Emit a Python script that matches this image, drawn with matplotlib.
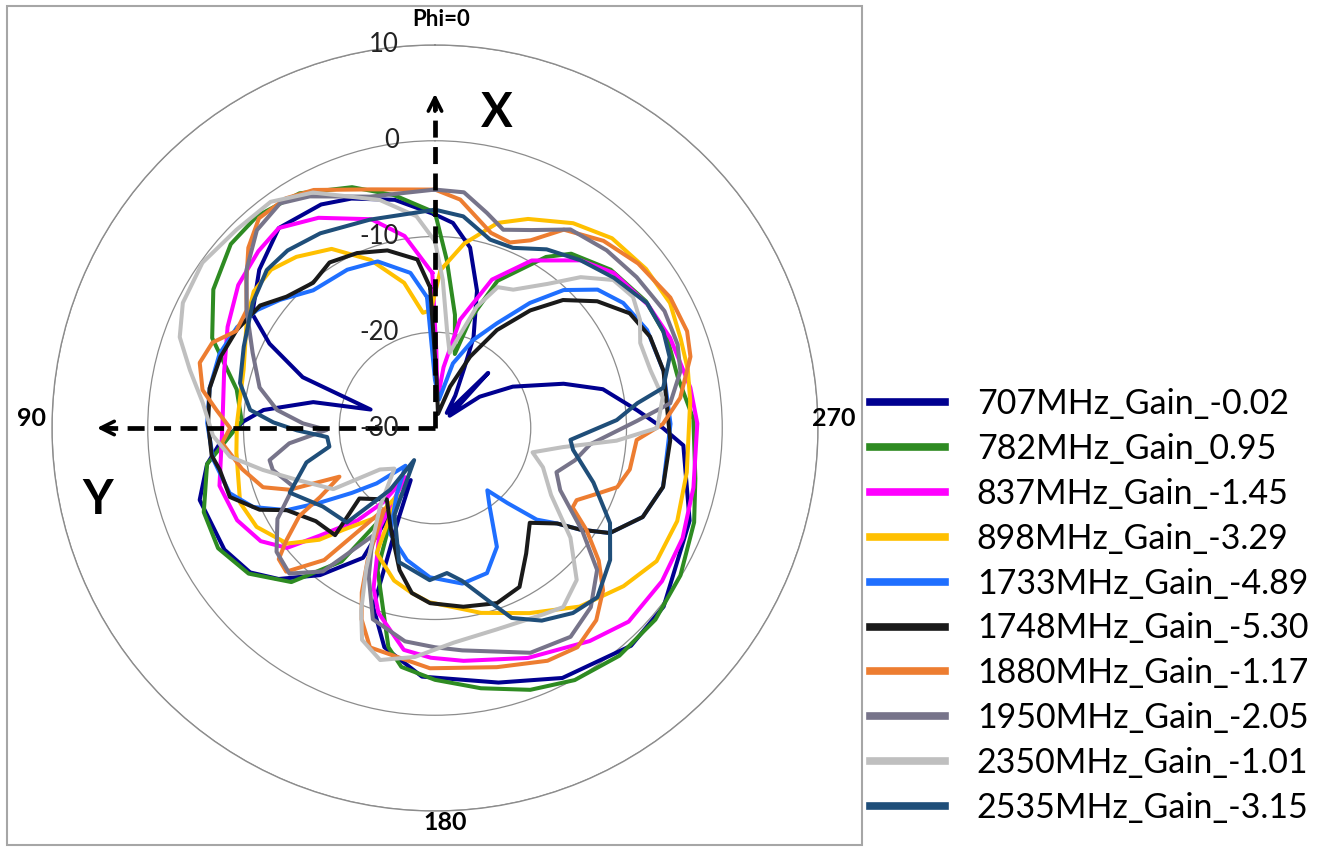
import numpy as np
import matplotlib
matplotlib.use("Agg")
import matplotlib.pyplot as plt
from matplotlib.transforms import offset_copy
from matplotlib.patches import Rectangle

plt.rcParams['font.family'] = ['Lato', 'DejaVu Sans']

# legend labels and line colours
bands = ["707MHz_Gain_-0.02", "782MHz_Gain_0.95", "837MHz_Gain_-1.45",
         "898MHz_Gain_-3.29", "1733MHz_Gain_-4.89", "1748MHz_Gain_-5.30",
         "1880MHz_Gain_-1.17", "1950MHz_Gain_-2.05", "2350MHz_Gain_-1.01",
         "2535MHz_Gain_-3.15"]
colors = ["#000090", "#2e8b22", "#ff00ff", "#ffc000", "#1f6fff",
          "#1a1a1a", "#ed7d31", "#77748a", "#bfbfbf", "#1f4e79"]

# radial scale (dBi)
r_ticks = [-30, -20, -10, 0, 10]

# pattern cuts: phi (deg) and gain (dBi)
phi_707 = [0, 10, 20, 27, 38, 48, 58, 63, 69, 74, 78, 84, 88, 94, 99, 107, 120, 128, 134, 142,
           151, 155, 158, 161, 167, 177, 194, 207, 222, 232, 250, 266, 270, 275, 283, 289, 298,
           305, 310, 316, 322, 328, 334, 337, 343, 349, 355]
gain_707 = [-7.7, -5.8, -4.5, -3.8, -3.5, -5.3, -7.5, -10.6, -15.2, -23, -17, -12, -10, -7.5, -5.9,
            -4.3, -4.6, -5.5, -7.3, -10.5, -14.5, -24, -20, -10.2, -6.5, -4, -2.6, -0.7, 0.6, 0.3,
            -1.7, -4, -6.2, -8.8, -12, -15.8, -20.8, -24.3, -28, -22, -28, -26, -23, -19.7, -15,
            -10.8, -8.5]

phi_782 = [0, 10, 19, 30, 40, 48, 58, 68, 79, 88, 99, 110, 119, 128, 137, 145, 152, 158, 168,
           172, 180, 190, 200, 209, 219, 229, 239, 250, 259, 272, 282, 291, 301, 312, 322, 327,
           337, 342, 345, 350, 356]
gain_782 = [-7.5, -5.3, -3.4, -1.7, -1.1, -1.3, -2.7, -4.9, -8.9, -9.8, -5.9, -4.3, -4.1, -5.3,
            -8, -13, -21, -14, -6.6, -4.8, -3.7, -2.4, -0.9, 0.1, 0.6, 0.5, -0.1, -1.2, -2.3, -3,
            -4.1, -4, -4.3, -5.3, -6.9, -8.7, -13.3, -18, -22, -18, -12.4]

phi_837 = [1, 9, 17, 29, 38, 45, 54, 64, 75, 89, 105, 115, 123, 129, 133, 140, 145, 149, 151,
           159, 163, 172, 179, 187, 202, 216, 225, 236, 246, 257, 271, 279, 291, 300, 311, 319,
           330, 339, 347, 352, 355, 359]
gain_837 = [-13.8, -9.7, -7.2, -4.9, -3.5, -3.9, -4.6, -5.9, -7.2, -7.8, -6.7, -7.2, -8.3, -10.1,
            -13.5, -17.4, -20.5, -24, -18.2, -12.1, -9.8, -6.6, -6, -5.5, -4.1, -2.5, -1.4, -1.4,
            -1.7, -2.3, -2.6, -3, -3.7, -4.3, -5.3, -6.8, -9.8, -13.4, -18.4, -23.6, -27, -22]

phi_898 = [2, 6, 12, 21, 30, 39, 46, 53, 60, 73, 89, 97, 111, 119, 128, 134, 138, 147, 151, 155,
           165, 172, 178, 194, 207, 219, 230, 239, 249, 260, 276, 283, 290, 298, 307, 317, 326,
           336, 343, 351, 358]
gain_898 = [-17.7, -17.9, -14.5, -11.2, -8.4, -7, -6.2, -6.3, -7.3, -9.1, -9.3, -9.1, -8.2, -8.7,
            -10.4, -13.2, -15.7, -18.9, -22, -15.6, -13.5, -12.6, -11.8, -10.1, -8.3, -6, -4.3,
            -3, -2.9, -3.3, -3.2, -2.9, -2.7, -2.2, -2.4, -2.9, -4.2, -6.1, -7.6, -10.5, -13.5]

phi_1733 = [3.5, 9, 19, 29, 41.5, 50.4, 56.5, 63, 71, 80, 88.7, 98, 107.6, 113.5, 119, 123, 128,
            133.5, 142, 150, 157, 168, 178, 190, 199.7, 207.5, 214.8, 220, 224, 228, 232, 235,
            239, 246.8, 255.5, 271, 284, 294.8, 303.6, 310.4, 317, 322.8, 329.4, 336.6, 344.5,
            352, 0]
gain_1733 = [-16.3, -13.6, -11.6, -11.1, -10.8, -9, -7.7, -6.8, -6.2, -6.1, -6.2, -6.6, -7.5, -9.3,
             -12.3, -15.7, -19, -21.6, -25, -22, -18, -15.9, -14.4, -13.5, -13.9, -16, -20, -21.5,
             -19.1, -15.7, -13.8, -11.5, -8.7, -6.4, -5.4, -5.4, -5.4, -5.6, -6.4, -7.7, -10.3,
             -13.6, -17.3, -20, -23, -27, -25]

phi_1748 = [2, 6, 15, 24, 32.5, 40, 48.5, 55, 63.7, 71.7, 80, 88.7, 97, 101, 108.6, 115, 119, 128,
            137, 133, 146, 156, 166, 172, 178.4, 189, 199.5, 208, 216, 225, 232, 235, 239, 246.8,
            255.5, 267, 284, 293, 300.5, 308, 315, 321, 327.7, 333.8, 340, 348, 358]
gain_1748 = [-15.3, -12.3, -10.8, -10, -9.5, -10.2, -9.3, -7.7, -6.9, -6.4, -6.1, -6.3, -6.5, -7.1,
             -7.4, -9.8, -12.3, -14.2, -14.7, -19.2, -21, -18.6, -14.7, -12.6, -11.7, -11.1,
             -10.6, -11.2, -13.8, -16, -13.8, -11.5, -8.7, -6.4, -5.4, -5.4, -5.4, -5.6, -6.4,
             -8.5, -11.1, -14.2, -17.9, -21.7, -25.4, -28.5, -25]

phi_1880 = [0, 15, 27, 33, 40, 46, 52, 58, 64, 69, 74.5, 80.7, 85.3, 90, 94, 102, 109, 113, 117,
            121, 123, 127, 130, 134, 140, 148, 153, 156, 159, 163.5, 178.8, 194.5, 205.8, 213,
            220, 226, 231, 236, 240, 243, 248, 252, 258, 266.6, 271, 277, 285.6, 291, 299, 309,
            318, 327, 333, 338, 344, 353.7]
gain_1880 = [-5.1, -4.2, -2.1, -1.4, -1.4, -2.9, -5, -6.8, -6.9, -5.1, -4.5, -5.4, -7.1, -8.6,
             -7.7, -9.4, -11, -13.5, -18.8, -16, -13.1, -10.6, -8.7, -8.4, -12, -20, -14.5, -11.2,
             -8.6, -6.1, -4.9, -4.2, -3, -2.7, -3.8, -5.6, -8, -10.9, -13.4, -13.4, -11.7, -10,
             -9.2, -8.9, -6.2, -4.2, -2.3, -1.8, -1.9, -2.7, -3.7, -5.3, -8, -9.1, -8.8, -6]

phi_1950 = [0, 15.7, 28.4, 34.6, 42, 50, 58, 67.6, 77, 83.5, 88, 91, 96, 101, 104.5, 112.5, 120,
            128, 135, 142, 150, 156, 162, 172, 180, 187, 203, 213, 221, 228.8, 235, 243.6, 250,
            257, 264, 272, 276, 283, 289, 297, 306.8, 316, 325.7, 334, 341, 346.4, 353]
gain_1950 = [-5.1, -4.9, -2.5, -1.5, -2.2, -4.3, -6.8, -9.4, -11.2, -13.4, -16.2, -18.7, -14.7,
             -12.4, -12.5, -14, -11, -9, -8.5, -11, -17, -13, -9, -7.5, -7.1, -6.6, -4.5, -4,
             -5.2, -7.5, -11.2, -15.4, -16.5, -15, -13.7, -8.9, -5.3, -3.7, -3.2, -3.1, -3.7,
             -4.2, -4.9, -7, -8.1, -6.9, -5.2]

phi_2350 = [0, 5, 13.6, 27.4, 36, 45, 54.6, 63.6, 70.4, 76.7, 83.8, 92, 98, 103.7, 110.6, 121,
            127, 135, 145, 154, 158, 161, 166.7, 175, 185, 197, 210, 215.6, 223, 231, 240, 250,
            256, 261.5, 266, 270, 277.7, 285, 292.5, 297.8, 303.5, 309.7, 316, 322, 330.5, 336,
            341, 346, 349, 353, 357]
gain_2350 = [-10.5, -7.8, -5.5, -2.3, -0.8, -0.7, -0.2, -0.6, -1.7, -3.7, -5.6, -6.8, -8.4, -11.5,
             -14.6, -17.6, -22.8, -24, -20, -13.6, -9.4, -6.6, -5.1, -6, -7.5, -8, -7.5, -7,
             -8.3, -11.8, -16, -18, -19.5, -16.5, -11, -6.8, -6, -6.7, -6.8, -5.8, -5.2, -5.8,
             -8.1, -10.9, -13.4, -13.9, -16.6, -20.5, -22, -19.7, -14.5]

phi_2535 = [0, 17.4, 30.5, 39.7, 46.8, 55.5, 67, 77, 84.4, 88, 91, 94.8, 100, 105, 114, 125, 137,
            144, 147, 155, 165, 178, 184.7, 190, 197, 202, 209, 216.7, 223.8, 233, 241.5, 251,
            261, 265, 272.5, 277, 280, 286.8, 293, 300.5, 310, 319, 328, 336.6, 343.7, 352.4]
gain_2535 = [-7.2, -7.2, -6.4, -5.9, -5.9, -6.9, -8.3, -9.1, -10.6, -13.1, -15.6, -18.7, -18.8,
             -16.1, -13.4, -15.7, -16.5, -22, -26, -20, -15.5, -14.1, -14.8, -13.8, -11.2, -8.6,
             -7, -5.9, -5.5, -7.1, -9.2, -12.5, -15.4, -15.8, -11, -8.7, -5.8, -4.4, -4.1, -4.3,
             -5.6, -6.8, -8, -9.5, -9.5, -7.7]

phis = [phi_707, phi_782, phi_837, phi_898, phi_1733, phi_1748, phi_1880, phi_1950,
        phi_2350, phi_2535]
gains = [gain_707, gain_782, gain_837, gain_898, gain_1733, gain_1748, gain_1880, gain_1950,
         gain_2350, gain_2535]

W, H = 1322, 847
fig = plt.figure(figsize=(W / 100, H / 100), dpi=100)

# polar area: centre (435, 428) px, outer ring radius 383 px
cx, cy, R = 435, 428, 383
ax = fig.add_axes([(cx - R) / W, (H - cy - R) / H, 2 * R / W, 2 * R / H], projection='polar')
ax.set_theta_zero_location('N')
ax.set_theta_direction(1)
ax.set_ylim(-30, 10)
ax.set_rticks(r_ticks[1:])
ax.set_yticklabels([])
ax.set_xticks([])
ax.yaxis.grid(True, color='#8c8c8c', lw=0.9)
ax.spines['polar'].set_color('#8c8c8c')
ax.spines['polar'].set_linewidth(1.0)

for ph, g, c, lab in zip(phis, gains, colors, bands):
    th = np.deg2rad(ph + [ph[0] + 360])
    ax.plot(th, g + [g[0]], color=c, lw=2.9, label=lab, solid_joinstyle='round')

# radial labels, left of the phi=0 line
lab_tr = offset_copy(ax.transData, fig=fig, x=-36, y=0, units='dots')
for r in r_ticks:
    ax.text(0, r, str(r), transform=lab_tr, ha='right', va='center', fontsize=18.5,
            color='#222222', zorder=30)

# dashed X / Y axis arrows
ax.plot([0, 0], [-30, 4.0], color='black', lw=3.4, ls=(0, (3.6, 2.0)), zorder=25)
ax.annotate('', xy=(0, 5.2), xytext=(0, 2.8),
            arrowprops=dict(arrowstyle='->', color='black', lw=2.6, mutation_scale=24), zorder=26)
ax.plot([np.pi / 2, np.pi / 2], [-30, 4.6], color='black', lw=3.4, ls=(0, (3.6, 2.0)), zorder=25)
ax.annotate('', xy=(np.pi / 2, 5.6), xytext=(np.pi / 2, 3.4),
            arrowprops=dict(arrowstyle='->', color='black', lw=2.6, mutation_scale=24), zorder=26)

def px(x, y):
    return x / W, 1 - y / H

fig.text(*px(441, 19), 'Phi=0', ha='center', va='center', fontsize=16, weight='bold')
fig.text(*px(32, 418), '90', ha='center', va='center', fontsize=18, weight='bold')
fig.text(*px(834, 418), '270', ha='center', va='center', fontsize=18, weight='bold')
fig.text(*px(445, 822), '180', ha='center', va='center', fontsize=18, weight='bold')
fig.text(*px(497, 113), 'X', ha='center', va='center', fontsize=34, weight='bold')
fig.text(*px(98, 500), 'Y', ha='center', va='center', fontsize=34, weight='bold')

# grey frame round the chart area
fig.add_artist(Rectangle(px(7, 845), 855 / W, 839 / H, transform=fig.transFigure,
                         fill=False, edgecolor='#a6a6a6', lw=1.5))

leg = fig.legend(loc='center left', bbox_to_anchor=px(870, 606), frameon=False, fontsize=24.5,
                 handlelength=2.2, handletextpad=0.94, labelspacing=0.38, borderpad=0,
                 borderaxespad=0)
for ln in leg.get_lines():
    ln.set_linewidth(5.5)

fig.savefig('out.png', dpi=100)
